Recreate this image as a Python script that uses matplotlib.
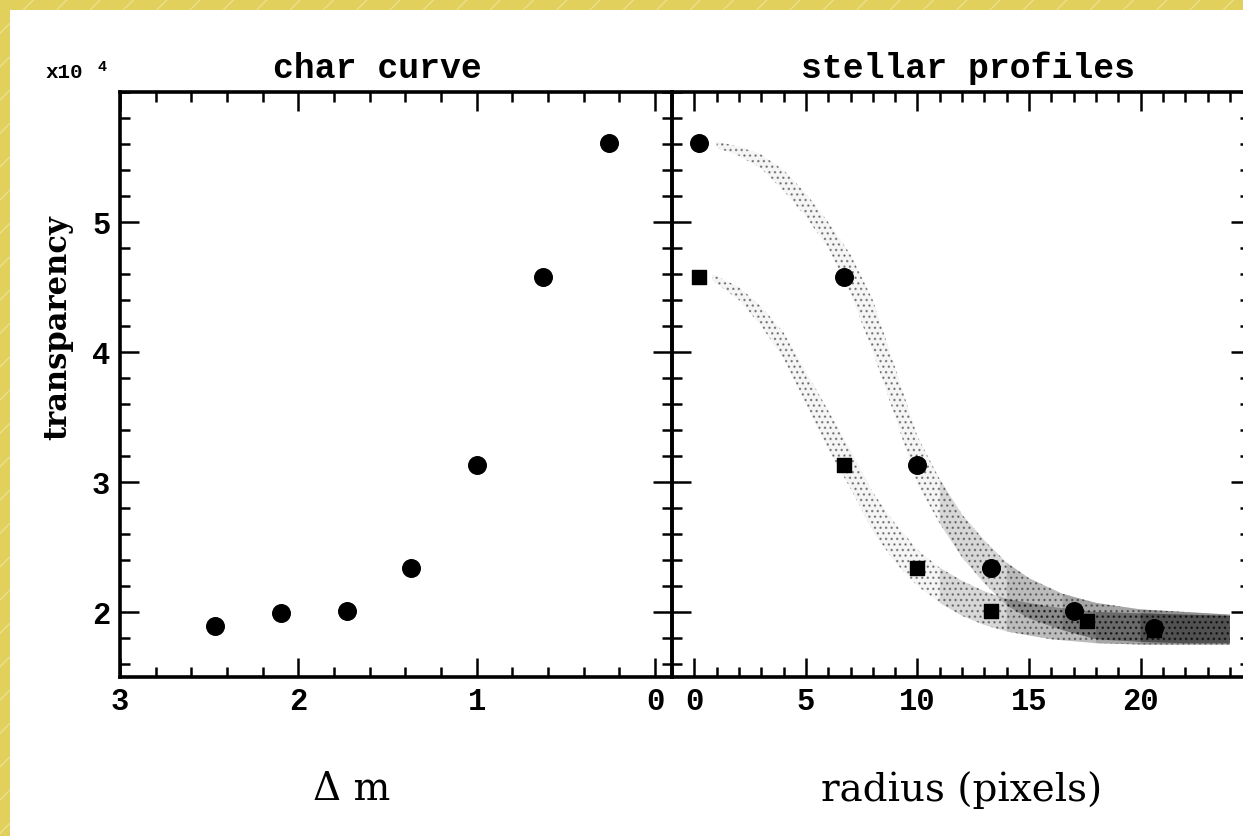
import numpy as np
import matplotlib.pyplot as plt
from matplotlib.patches import Rectangle
from matplotlib.ticker import MultipleLocator

# char curve (transparency in units of 1e4)
dm = [2.47, 2.10, 1.73, 1.37, 1.00, 0.63, 0.26]
trans = [1.89, 1.99, 2.01, 2.34, 3.13, 4.58, 5.61]

# stellar profiles: marked points
circ_r = [0.2, 6.7, 10.0, 13.3, 17.0, 20.6]
circ_y = [5.61, 4.58, 3.13, 2.34, 2.01, 1.88]
sq_r = [0.2, 6.7, 10.0, 13.3, 17.6, 20.6]
sq_y = [4.58, 3.13, 2.34, 2.01, 1.93, 1.86]

a_r = [1.0, 2, 3, 4, 5, 6, 7, 8, 9, 10, 11, 12, 13, 14, 15, 16.5, 18, 20, 22, 24]
a_lo = [5.57, 5.51, 5.41, 5.24, 5.04, 4.80, 4.45, 4.00, 3.50, 2.98, 2.68, 2.42,
        2.22, 2.05, 1.95, 1.86, 1.79, 1.77, 1.76, 1.76]
a_hi = [5.62, 5.58, 5.52, 5.40, 5.22, 5.00, 4.75, 4.40, 3.88, 3.35, 3.02, 2.75,
        2.55, 2.38, 2.26, 2.14, 2.07, 2.02, 2.00, 1.98]
b_r = [0.8, 2, 3, 4, 5, 6, 7, 8, 9, 10, 11, 12, 13, 14, 16, 18, 20, 22, 24]
b_lo = [4.55, 4.40, 4.20, 3.95, 3.60, 3.25, 2.95, 2.62, 2.38, 2.20, 2.07, 1.97,
        1.90, 1.85, 1.79, 1.76, 1.75, 1.75, 1.75]
b_hi = [4.60, 4.50, 4.35, 4.15, 3.85, 3.55, 3.25, 2.92, 2.68, 2.48, 2.34, 2.24,
        2.16, 2.10, 2.04, 2.00, 1.99, 1.98, 1.97]
# radius beyond which each cloud gets denser
dense_from = [11.0, 14.0, 16.5, 19.0]

W, H = 1243, 836
fig = plt.figure(figsize=(W / 100, H / 100), dpi=100)
fig.patch.set_facecolor('#e2d05c')
fig.add_artist(Rectangle((0, 0), 1, 1, transform=fig.transFigure, zorder=-20,
                         facecolor='none', edgecolor='#ece08c', hatch='/', lw=0))
fig.add_artist(Rectangle((10 / W, 0), 1, 1 - 10 / H, transform=fig.transFigure,
                         zorder=-10, facecolor='white', edgecolor='none'))

bottom = (H - 677) / H
height = 585 / H
ax1 = fig.add_axes([120 / W, bottom, 552 / W, height])
ax2 = fig.add_axes([672 / W, bottom, 578 / W, height], sharey=ax1)

tickfont = dict(family='Liberation Mono', weight='bold', size=22)

for ax in (ax1, ax2):
    ax.set_facecolor('none')
    for s in ax.spines.values():
        s.set_linewidth(2.6)
    ax.tick_params(which='both', direction='in', top=True, right=True, width=1.8, pad=7)
    ax.tick_params(which='major', length=14)
    ax.tick_params(which='minor', length=7)
    ax.yaxis.set_major_locator(MultipleLocator(1))
    ax.yaxis.set_minor_locator(MultipleLocator(0.2))

ax1.set_ylim(1.5, 6.0)

# left panel
ax1.scatter(dm, trans, s=160, color='black', zorder=3)
ax1.set_xlim(3, -0.095)
ax1.xaxis.set_major_locator(MultipleLocator(1))
ax1.xaxis.set_minor_locator(MultipleLocator(0.2))
ax1.set_xticks([3, 2, 1, 0])
ax1.set_xticklabels(['3', '2', '1', '0'], fontdict=tickfont)
ax1.set_yticks([2, 3, 4, 5])
ax1.set_yticklabels(['2', '3', '4', '5'], fontdict=tickfont)

# right panel: clouds drawn as stippled bands
for r, lo, hi in ((a_r, a_lo, a_hi), (b_r, b_lo, b_hi)):
    r = np.array(r)
    lo = np.array(lo)
    hi = np.array(hi)
    ax2.fill_between(r, lo, hi, facecolor=(0, 0, 0, 0.04), edgecolor=(0, 0, 0, 0.4),
                     hatch='...', lw=0)
    for start in dense_from:
        m = r >= start
        ax2.fill_between(r[m], lo[m], hi[m], facecolor=(0, 0, 0, 0.12), lw=0)

ax2.scatter(circ_r, circ_y, s=160, color='black', marker='o', zorder=3)
ax2.scatter(sq_r, sq_y, s=100, color='black', marker='s', zorder=3)
ax2.set_xlim(-1.0, 24.9)
ax2.xaxis.set_major_locator(MultipleLocator(5))
ax2.xaxis.set_minor_locator(MultipleLocator(1))
ax2.set_xticks([0, 5, 10, 15, 20])
ax2.set_xticklabels(['0', '5', '10', '15', '20'], fontdict=tickfont)
ax2.tick_params(axis='y', labelleft=False)

# titles and labels
titlefont = dict(family='Liberation Mono', weight='bold', size=25)
fig.text(377 / W, 1 - 68 / H, 'char curve', ha='center', va='center', **titlefont)
fig.text(968 / W, 1 - 68 / H, 'stellar profiles', ha='center', va='center', **titlefont)
fig.text(46 / W, 1 - 73 / H, 'x10', ha='left', va='center',
         family='Liberation Mono', weight='bold', size=15)
fig.text(98 / W, 1 - 67 / H, '4', ha='left', va='center',
         family='Liberation Mono', weight='bold', size=11)
fig.text(58 / W, 1 - 328 / H, 'transparency', rotation=90, ha='center', va='center',
         family='DejaVu Serif', weight='bold', size=22)
fig.text(352 / W, 1 - 790 / H, '\u0394 m', ha='center', va='center',
         family='DejaVu Serif', size=28)
fig.text(962 / W, 1 - 790 / H, 'radius (pixels)', ha='center', va='center',
         family='DejaVu Serif', size=28)

fig.savefig('out.png', dpi=100, facecolor=fig.get_facecolor())
